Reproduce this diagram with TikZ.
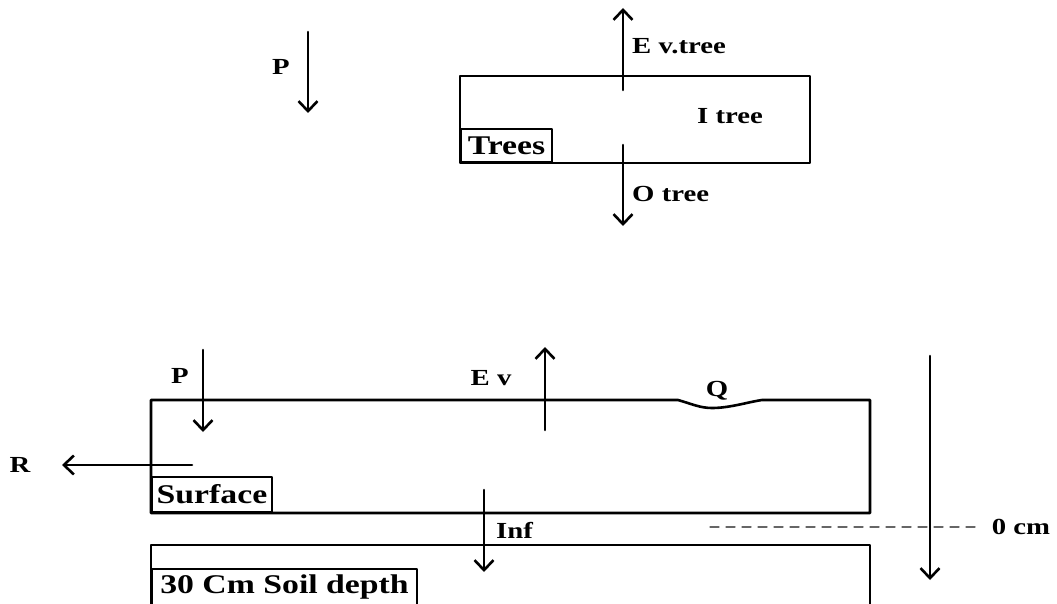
\documentclass[tikz,border=0pt]{standalone}
\usepackage{fontspec}
\setmainfont{Liberation Serif}[FakeStretch=1.25]
\usetikzlibrary{arrows.meta}

\begin{document}
\begin{tikzpicture}[line cap=round,line join=round,>={Straight Barb[length=10pt,width=19pt,line width=2.6pt]},x=1pt,y=-1pt,
  lbl/.style={font=\fontsize{23}{25}\selectfont\bfseries,inner sep=0pt},
  tag/.style={draw,line width=2pt,anchor=south west,inner sep=2pt,font=\fontsize{27}{29}\selectfont\bfseries,align=left}]
      \useasboundingbox (0,0) rectangle (1057,604);
      % tree store
      \draw[line width=2.6pt] (460,76) rectangle (810,163);
      \node[tag,minimum width=91pt,minimum height=33pt] (trees) at (460,163) {Trees};
      \node[lbl] (itree) at (730,116) {I tree};
      \coordinate (evt0) at (623,90);
      \coordinate (evt1) at (623,8);
      \coordinate (ot0) at (623,145);
      \coordinate (ot1) at (623,226);
      \draw[->,line width=2.6pt] (evt0) -- (evt1);
      \draw[->,line width=2.6pt] (ot0) -- (ot1);
      \node[lbl,anchor=west] (evtree) at (632,46) {E v.tree};
      \node[lbl,anchor=west] (otree) at (632,194) {O tree};
      \coordinate (pt0) at (308,32);
      \coordinate (pt1) at (308,113);
      \draw[->,line width=2.6pt] (pt0) -- (pt1);
      \node[lbl] (ptop) at (281,67) {P};
      % surface store
      \draw[line width=2.6pt] (151,400) -- (678,400) .. controls (692,404) and (700,408) .. (712,408)
        .. controls (730,408) and (748,402) .. (762,400) -- (870,400) -- (870,513) -- (151,513) -- cycle;
      \node[tag,minimum width=120pt,minimum height=35pt] (surface) at (151,513) {Surface};
      \node[lbl] (q) at (717,391) {Q};
      \coordinate (ps0) at (203,350);
      \coordinate (ps1) at (203,432);
      \draw[->,line width=2.6pt] (ps0) -- (ps1);
      \node[lbl] (psurf) at (180,376) {P};
      \coordinate (ev0) at (545,430);
      \coordinate (ev1) at (545,347);
      \draw[->,line width=2.6pt] (ev0) -- (ev1);
      \node[lbl] (ev) at (491,378) {E v};
      \coordinate (r0) at (192,465);
      \coordinate (r1) at (62,465);
      \draw[->,line width=2.6pt] (r0) -- (r1);
      \node[lbl] (r) at (20,465) {R};
      \coordinate (inf0) at (484,490);
      \coordinate (inf1) at (484,572);
      \draw[->,line width=2.6pt] (inf0) -- (inf1);
      \node[lbl,anchor=west] (inf) at (496,530) {Inf};
      % soil layer
      \draw[line width=2.6pt] (151,606) -- (151,545) -- (870,545) -- (870,606);
      \node[tag,minimum width=265pt,minimum height=36pt] (soil) at (151,606) {30 Cm Soil depth};
      % depth axis
      \draw[dashed,dash pattern=on 9pt off 7pt,line width=1.3pt,black!60] (710,527) -- (978,527);
      \node[lbl] (zero) at (1021,527) {0 cm};
      \coordinate (d0) at (930,356);
      \coordinate (d1) at (930,580);
      \draw[->,line width=2.6pt] (d0) -- (d1);
    \end{tikzpicture}
\end{document}
